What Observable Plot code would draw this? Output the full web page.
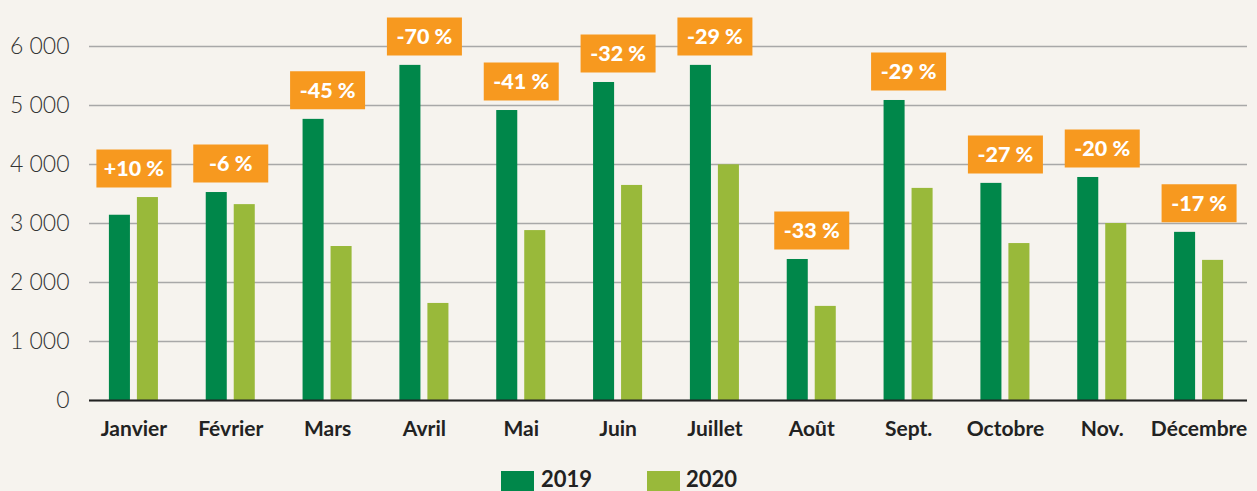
<!DOCTYPE html>
<html><head><meta charset="utf-8">
<script src="https://cdn.jsdelivr.net/npm/d3@7"></script>
<script src="https://cdn.jsdelivr.net/npm/@observablehq/plot@0.6"></script>
<style>
html,body{margin:0;padding:0;background:#f6f3ee;}
#chart{position:relative;width:1257px;height:491px;overflow:hidden;}
.legend{position:absolute;top:467px;left:0;width:1257px;font-family:Lato,"Noto Sans",sans-serif;font-weight:700;font-size:22px;color:#222;}
.legend span.sw{position:absolute;top:4px;width:33px;height:22px;}
.legend span.lb{position:absolute;top:0px;line-height:24px;}
</style></head>
<body><div id="chart"></div>
<script>
const months = ["Janvier","Février","Mars","Avril","Mai","Juin","Juillet","Août","Sept.","Octobre","Nov.","Décembre"];
const v2019 = [3140,3525,4765,5680,4915,5390,5680,2390,5085,3680,3780,2850];
const v2020 = [3440,3320,2610,1645,2880,3645,3995,1595,3595,2660,3000,2375];
const changes = ["+10 %","-6 %","-45 %","-70 %","-41 %","-32 %","-29 %","-33 %","-29 %","-27 %","-20 %","-17 %"];
const yTicks = [0,1000,2000,3000,4000,5000,6000];
const years = ["2019","2020"];
const colors = ["#00874a","#99b93a"];
const orange = "#f7991f";

const rows = months.map((m,i)=>({month:m, a:v2019[i], b:v2020[i], top:Math.max(v2019[i],v2020[i]), label:changes[i]}));
const boxSymbol = {draw(ctx){ ctx.rect(-37.5,-19,75,38); }};
const fmt = d => d3.format(",")(d).replace(/,/g," ");

const plot = Plot.plot({
  width:1257, height:460,
  marginLeft:89, marginRight:10, marginTop:0, marginBottom:60,
  style:{background:"transparent", fontFamily:"Lato, 'Noto Sans', sans-serif"},
  x:{domain:months, range:[85,1247], padding:0, round:false},
  y:{domain:[0,6000], range:[400,46]},
  marks:[
    Plot.gridY(yTicks,{stroke:"#a8a8a8", strokeOpacity:1, strokeWidth:1.3}),
    Plot.axisY(yTicks,{tickSize:0, tickPadding:20, tickFormat:fmt, fontSize:23, fill:"#333", fontWeight:300}),
    Plot.axisX({tickSize:0, tickPadding:21, fontSize:21, fontWeight:700, fill:"#222", label:null}),
    Plot.barY(rows,{x:"month", y:"a", fill:colors[0], dx:-14, insetLeft:37.9, insetRight:37.9}),
    Plot.barY(rows,{x:"month", y:"b", fill:colors[1], dx:14, insetLeft:37.9, insetRight:37.9}),
    Plot.ruleY([0],{stroke:"#222", strokeWidth:2}),
    Plot.dot(rows,{x:"month", y:"top", dy:-29, symbol:boxSymbol, fill:orange, stroke:null, r:1}),
    Plot.text(rows,{x:"month", y:"top", dy:-28, text:"label", fill:"white", fontSize:21.5, fontWeight:900})
  ]
});
const chart = document.getElementById("chart");
chart.appendChild(plot);
const leg = document.createElement("div");
leg.className = "legend";
const pos = [[501,541],[647,686]];
years.forEach((y,i)=>{
  const sw = document.createElement("span"); sw.className="sw"; sw.style.left=pos[i][0]+"px"; sw.style.background=colors[i];
  const lb = document.createElement("span"); lb.className="lb"; lb.style.left=pos[i][1]+"px"; lb.textContent=y;
  leg.appendChild(sw); leg.appendChild(lb);
});
chart.appendChild(leg);
</script></body></html>
